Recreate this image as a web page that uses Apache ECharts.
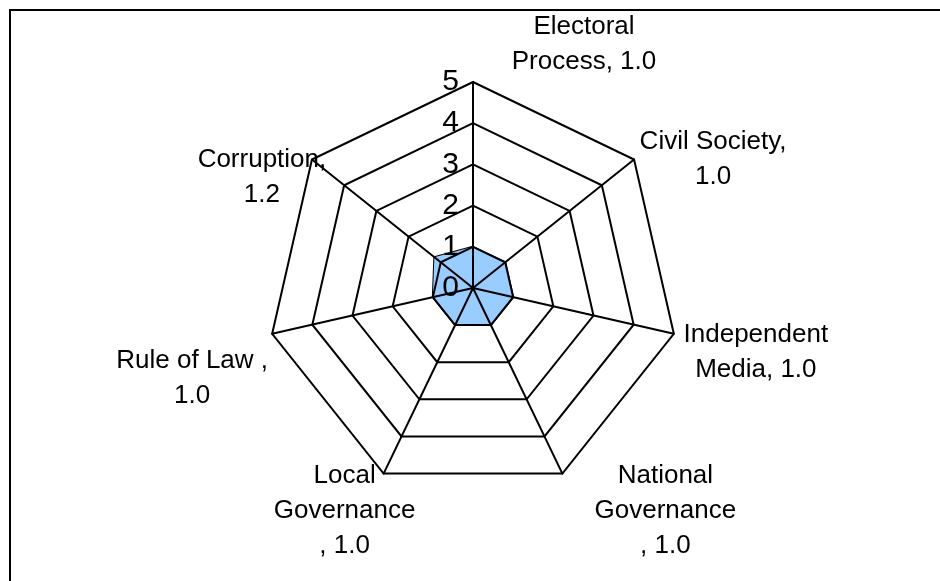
<!DOCTYPE html>
<html>
<head>
<meta charset="utf-8">
<script src="https://cdn.jsdelivr.net/npm/echarts@6/dist/echarts.min.js"></script>
<style>html,body{margin:0;padding:0;background:#fff}#c{width:940px;height:581px}</style>
</head>
<body>
<div id="c"></div>
<script>
// Categories in clockwise order starting from the top
var categories = ['Electoral Process', 'Civil Society', 'Independent Media', 'National Governance', 'Local Governance', 'Rule of Law ', 'Corruption'];
var scores = [1.0, 1.0, 1.0, 1.0, 1.0, 1.0, 1.2];
var labelTexts = ['Electoral\nProcess, 1.0', 'Civil Society,\n1.0', 'Independent\nMedia, 1.0', 'National\nGovernance\n, 1.0', 'Local\nGovernance\n, 1.0', 'Rule of Law ,\n1.0', 'Corruption,\n1.2'];
var tickValues = [0, 1, 2, 3, 4, 5];
var scaleMax = 5;

// label offsets (style only) relative to each axis end
var labelOffsets = [[111, -38], [79, 0], [82, 18], [103, 37], [-39, 37], [-80, 44], [-50, 18]];

var FONT = 'Liberation Sans, Arial, sans-serif';
var CX = 473, CY = 288, R = 206;

// ECharts radar runs counter-clockwise; reorder so the picture reads clockwise
var order = [0];
for (var k = categories.length - 1; k >= 1; k--) order.push(k);

var chart = echarts.init(document.getElementById('c'), null, {renderer: 'canvas'});
chart.setOption({
  animation: false,
  backgroundColor: '#fff',
  graphic: [{
    type: 'rect', silent: true,
    shape: {x: 10, y: 10, width: 1200, height: 1200},
    style: {fill: 'none', stroke: '#000', lineWidth: 2}
  }],
  radar: {
    center: [CX, CY], radius: R, startAngle: 90, shape: 'polygon', splitNumber: 5, z: 3,
    indicator: order.map(function (i) { return {name: categories[i], min: 0, max: scaleMax}; }),
    axisName: {show: false},
    splitLine: {lineStyle: {color: '#000', width: 2}},
    splitArea: {show: false},
    axisLine: {lineStyle: {color: '#000', width: 2}},
    axisTick: {show: false},
    axisLabel: {show: false}
  },
  polar: {center: [CX, CY], radius: R},
  angleAxis: {
    type: 'value', min: 0, max: categories.length, startAngle: 90, clockwise: true,
    axisLine: {show: false}, axisTick: {show: false}, axisLabel: {show: false}, splitLine: {show: false}
  },
  radiusAxis: {
    type: 'value', min: 0, max: scaleMax, interval: 1,
    axisLine: {show: false}, axisTick: {show: false}, splitLine: {show: false}, axisLabel: {show: false}
  },
  series: [{
    type: 'radar',
    symbol: 'none',
    z: 2,
    lineStyle: {color: '#000', width: 2},
    areaStyle: {color: '#99CCFF', opacity: 1},
    data: [{value: order.map(function (i) { return scores[i]; }), name: 'Score'}]
  }, {
    // scale tick labels placed on the vertical (first) axis
    type: 'scatter',
    coordinateSystem: 'polar',
    symbolSize: 0,
    silent: true,
    z: 6,
    itemStyle: {opacity: 1},
    label: {
      show: true, position: 'left', distance: 14,
      formatter: function (p) { return String(p.value[0]); },
      fontFamily: FONT, fontSize: 30, color: '#000'
    },
    data: tickValues.map(function (v) { return {value: [v, 0]}; })
  }, {
    type: 'scatter',
    coordinateSystem: 'polar',
    symbolSize: 0,
    silent: true,
    z: 5,
    itemStyle: {opacity: 1},
    data: categories.map(function (c, i) {
      return {
        name: c,
        value: [scaleMax, i],
        label: {
          show: true, position: 'inside', offset: labelOffsets[i],
          formatter: labelTexts[i],
          align: 'center', verticalAlign: 'middle', opacity: 1,
          fontFamily: FONT, fontSize: 26, lineHeight: 35, color: '#000',
          textBorderWidth: 0
        }
      };
    })
  }]
});
</script>
</body>
</html>
